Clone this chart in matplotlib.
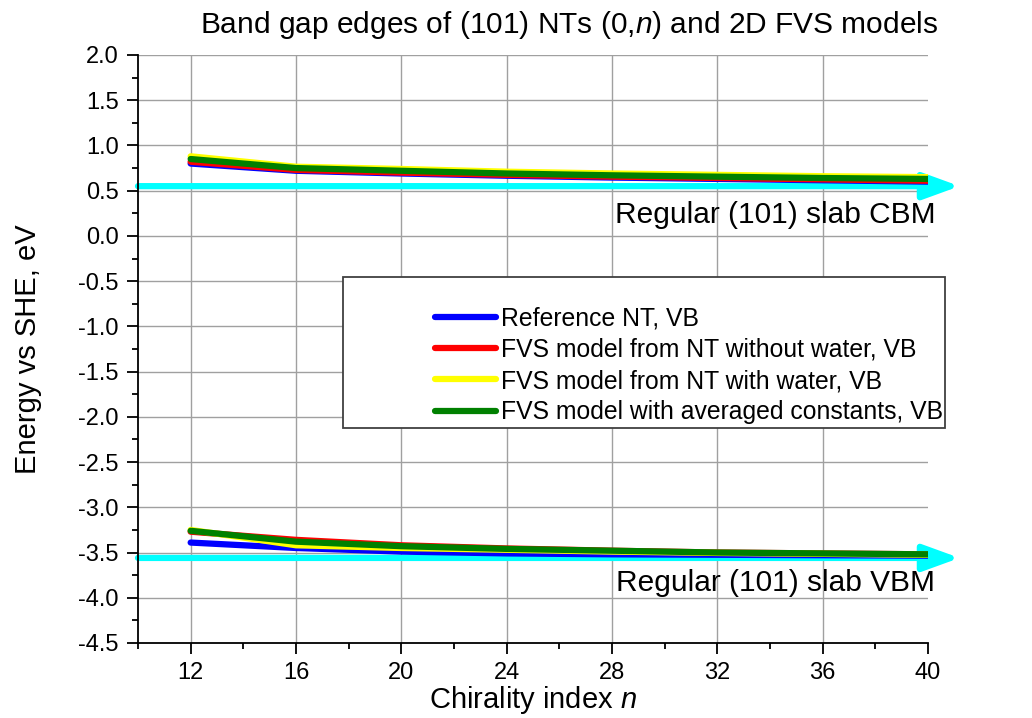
import matplotlib
matplotlib.use('Agg')
import matplotlib.pyplot as plt
from matplotlib.ticker import MultipleLocator
from matplotlib.patches import Rectangle

plt.rcParams['font.family'] = ['Liberation Sans', 'DejaVu Sans']
plt.rcParams['mathtext.fontset'] = 'custom'
plt.rcParams['mathtext.it'] = 'Liberation Sans:italic'
plt.rcParams['mathtext.rm'] = 'Liberation Sans'

# chirality index n
n = [12, 16, 20, 24, 28, 32, 36, 40]

# conduction band edges (upper group)
cb_ref = [0.80, 0.72, 0.69, 0.665, 0.645, 0.63, 0.615, 0.60]
cb_nowater = [0.82, 0.73, 0.70, 0.675, 0.655, 0.64, 0.625, 0.61]
cb_water = [0.88, 0.765, 0.74, 0.71, 0.69, 0.675, 0.66, 0.65]
cb_avg = [0.85, 0.75, 0.72, 0.69, 0.67, 0.655, 0.64, 0.63]

# valence band edges (lower group)
vb_ref = [-3.39, -3.45, -3.49, -3.51, -3.52, -3.525, -3.53, -3.535]
vb_nowater = [-3.27, -3.36, -3.42, -3.455, -3.48, -3.50, -3.51, -3.52]
vb_water = [-3.25, -3.42, -3.45, -3.47, -3.49, -3.505, -3.515, -3.525]
vb_avg = [-3.26, -3.38, -3.43, -3.46, -3.48, -3.50, -3.51, -3.52]

slab_cbm = 0.55
slab_vbm = -3.56

labels = ['Reference NT, VB',
          'FVS model from NT without water, VB',
          'FVS model from NT with water, VB',
          'FVS model with averaged constants, VB']
colors = ['#0000ff', '#ff0000', '#ffff00', '#008000']

fig = plt.figure(figsize=(10.32, 7.18), dpi=100)
ax = fig.add_axes([0.1337, 0.1045, 0.7655, 0.8189])

cb_sets = [cb_ref, cb_nowater, cb_water, cb_avg]
vb_sets = [vb_ref, vb_nowater, vb_water, vb_avg]
handles = []
for cb, vb, c, lab in zip(cb_sets, vb_sets, colors, labels):
    h, = ax.plot(n, cb, color=c, lw=4.5, solid_capstyle='round', zorder=3, label=lab)
    ax.plot(n, vb, color=c, lw=4.5, solid_capstyle='round', zorder=3)
    handles.append(h)

# slab edges as cyan arrows
for yv in [slab_cbm, slab_vbm]:
    ax.annotate('', xy=(41.2, yv), xytext=(10, yv),
                arrowprops=dict(arrowstyle='-|>,head_length=1.1,head_width=0.4',
                                color='#00ffff', lw=4.5, shrinkA=0, shrinkB=0,
                                mutation_scale=20),
                annotation_clip=False, zorder=2)

ax.text(40.28, 0.23, 'Regular (101) slab CBM', ha='right', va='center', fontsize=21.5)
ax.text(40.28, -3.84, 'Regular (101) slab VBM', ha='right', va='center', fontsize=21.5)

ax.set_xlim(10, 40)
ax.set_ylim(-4.5, 2.0)
ax.set_xticks(range(12, 41, 4))
ax.xaxis.set_minor_locator(MultipleLocator(2))
ax.yaxis.set_minor_locator(MultipleLocator(0.25))
ax.set_yticks([-4.5 + 0.5 * i for i in range(14)])
ax.set_yticklabels(['%.1f' % (-4.5 + 0.5 * i) for i in range(14)])

ax.spines['top'].set_visible(False)
ax.spines['right'].set_visible(False)
ax.spines['left'].set_linewidth(1.3)
ax.spines['bottom'].set_linewidth(1.3)
ax.tick_params(which='major', length=8, width=1.3, labelsize=17, pad=6)
ax.tick_params(which='minor', length=4.5, width=1.3)

ax.grid(True, which='major', color='#a0a0a0', lw=1)
ax.set_axisbelow(True)
ax.xaxis.get_major_ticks()[-1].gridline.set_visible(False)
ax.yaxis.get_major_ticks()[0].gridline.set_visible(False)

ax.set_xlabel('Chirality index $\\mathit{n}$', fontsize=21, labelpad=0)
ax.set_ylabel('Energy vs SHE, eV', fontsize=21)
ax.yaxis.set_label_coords(-0.121, 0.5)

fig.text(0.551, 0.965, 'Band gap edges of (101) NTs (0,$\\mathit{n}$) and 2D FVS models',
         ha='center', va='center', fontsize=21.5)

# legend box
box = Rectangle((0.3324, 0.4039), 0.5833, 0.2103, transform=fig.transFigure,
                facecolor='white', edgecolor='#404040', lw=1.3, zorder=5)
fig.patches.append(box)
leg = fig.legend(handles=handles, loc='upper left', bbox_to_anchor=(0.4215, 0.5735),
                 frameon=False, fontsize=17.8, handlelength=2.45, handletextpad=0.2,
                 labelspacing=0.3, borderpad=0, borderaxespad=0)
leg.set_zorder(6)

fig.savefig('out.png', dpi=100)
